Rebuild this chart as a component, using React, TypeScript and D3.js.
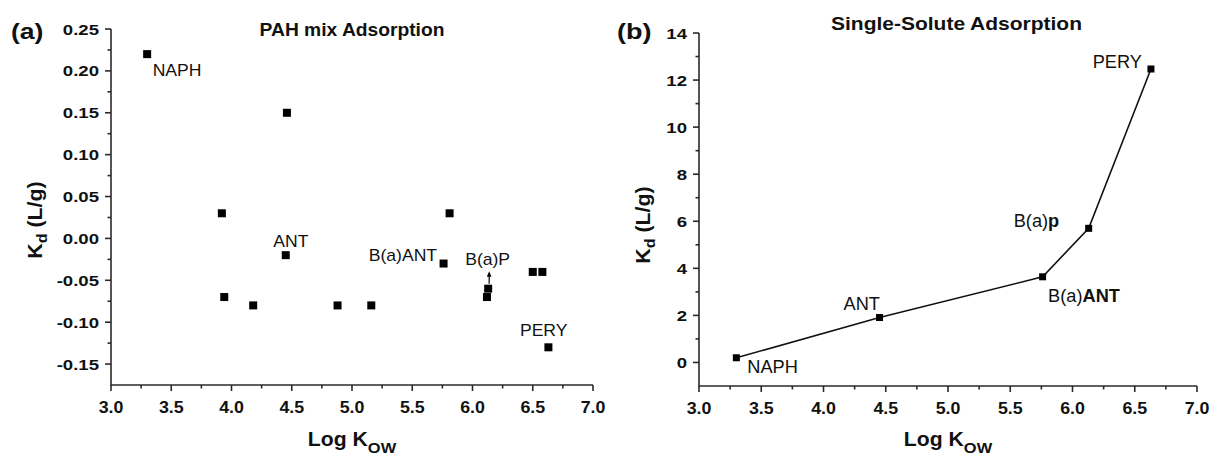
import React from "react";
import * as d3 from "d3";

const W = 1213;
const H = 454;
const FONT = "'Liberation Sans', Arial, sans-serif";

// panel (a): PAH mix adsorption
const mixLogKow = [3.3, 4.46, 3.92, 4.45, 3.94, 4.18, 4.88, 5.16, 5.81, 5.76, 6.13, 6.12, 6.5, 6.58, 6.63];
const mixKd = [0.22, 0.15, 0.03, -0.02, -0.07, -0.08, -0.08, -0.08, 0.03, -0.03, -0.06, -0.07, -0.04, -0.04, -0.13];
const mixNames = ["NAPH", "", "", "ANT", "", "", "", "", "", "B(a)ANT", "B(a)P", "", "", "", "PERY"];

// panel (b): single-solute adsorption
const singleNames = ["NAPH", "ANT", "B(a)ANT", "B(a)P", "PERY"];
const singleLogKow = [3.3, 4.45, 5.76, 6.13, 6.63];
const singleKd = [0.2, 1.91, 3.64, 5.7, 12.47];

// tick values
const xTicks = [3.0, 3.5, 4.0, 4.5, 5.0, 5.5, 6.0, 6.5, 7.0];
const mixYTicks = [-0.15, -0.1, -0.05, 0.0, 0.05, 0.1, 0.15, 0.2, 0.25];
const singleYTicks = [0, 2, 4, 6, 8, 10, 12, 14];

const loc = d3.formatLocale({ decimal: ".", thousands: ",", grouping: [3], currency: ["$", ""], minus: "-" });
const f2 = loc.format(".2f");
const f1 = loc.format(".1f");
const f0 = loc.format("d");

// label placement (pixel offsets from the point)
const mixLabelPos = {
  NAPH: { dx: 5.5, dy: 21.5, anchor: "start" },
  ANT: { dx: -12.5, dy: -8.5, anchor: "start" },
  "B(a)ANT": { dx: -6.5, dy: -2.5, anchor: "end" },
  "B(a)P": { dx: -23, dy: -23.5, anchor: "start" },
  PERY: { dx: -28.5, dy: -11.5, anchor: "start" },
};
const singleLabelPos = {
  NAPH: { dx: 11, dy: 15.5, anchor: "start" },
  ANT: { dx: -36, dy: -7.5, anchor: "start" },
  "B(a)ANT": { dx: 5.5, dy: 25, anchor: "start" },
  "B(a)P": { dx: -29.5, dy: -1.5, anchor: "end" },
  PERY: { dx: -9, dy: -1, anchor: "end" },
};

const Txt = ({ x, y, sx = 1.12, rot = 0, anchor = "start", size = 15, weight = "normal", children }: any) => (
  <text
    transform={`translate(${x},${y}) rotate(${rot}) scale(${sx},1)`}
    textAnchor={anchor}
    fontSize={size}
    fontWeight={weight}
    fontFamily={FONT}
    fill="#111"
  >
    {children}
  </text>
);

const AXIS = "#2a2a2a";

const Axes = ({ x, y, yTicks, yMinor, yFmt, xMinor }: any) => {
  const [x0, x1] = x.range();
  const [y0, y1] = y.range();
  return (
    <g stroke={AXIS} strokeWidth={1.6}>
      <line x1={x0} x2={x1} y1={y0} y2={y0} />
      <line x1={x0} x2={x0} y1={y0 + 0.8} y2={y1} />
      {xTicks.map(t => (
        <line key={"xt" + t} x1={x(t)} x2={x(t)} y1={y0} y2={y0 + 6} />
      ))}
      {xMinor.map(t => (
        <line key={"xm" + t} x1={x(t)} x2={x(t)} y1={y0} y2={y0 + 3.5} />
      ))}
      {yTicks.map(t => (
        <line key={"yt" + t} x1={x0 - 6} x2={x0} y1={y(t)} y2={y(t)} />
      ))}
      {yMinor.map(t => (
        <line key={"ym" + t} x1={x0 - 3.5} x2={x0} y1={y(t)} y2={y(t)} />
      ))}
      <g stroke="none">
        {xTicks.map(t => (
          <Txt key={"xl" + t} x={x(t)} y={y0 + 27.5} anchor="middle" size={16.5} weight="bold" sx={1.08}>
            {f1(t)}
          </Txt>
        ))}
        {yTicks.map(t => (
          <Txt key={"yl" + t} x={x0 - 12} y={y(t) + 5.5} anchor="end" size={15.5} weight="bold" sx={1.2}>
            {yFmt(t)}
          </Txt>
        ))}
      </g>
    </g>
  );
};

const AxisTitles = ({ cx, yBase, yMid }: any) => (
  <g>
    <Txt x={cx} y={445.5} anchor="middle" size={20} weight="bold" sx={1.06}>
      Log K<tspan fontSize={15.5} dy={7}>OW</tspan>
    </Txt>
    <Txt x={yBase} y={yMid} rot={-90} anchor="middle" size={20.5} weight="bold" sx={1.04}>
      K<tspan fontSize={15.5} dy={5}>d</tspan>
      <tspan dy={-5}> (L/g)</tspan>
    </Txt>
  </g>
);

export default function App() {
  React.useEffect(() => {
    document.body.style.margin = "0";
  }, []);

  const xA = d3.scaleLinear().domain([3, 7]).range([111, 593]);
  const yA = d3.scaleLinear().domain([-0.175, 0.25]).range([385, 29]);
  const xB = d3.scaleLinear().domain([3, 7]).range([699, 1197]);
  const yB = d3.scaleLinear().domain([-1, 14]).range([386, 33]);

  const xMinor = d3.range(3.25, 7, 0.5);
  const mixYMinor = d3.range(-0.125, 0.25, 0.05);
  const singleYMinor = d3.range(1, 14, 2);

  const line = d3
    .line<number>()
    .x((d, i) => xB(singleLogKow[i]))
    .y(d => yB(d));

  const mixPts = mixLogKow.map((v, i) => ({ x: xA(v), y: yA(mixKd[i]), name: mixNames[i] }));
  const singlePts = singleLogKow.map((v, i) => ({ x: xB(v), y: yB(singleKd[i]), name: singleNames[i] }));
  const bap = mixPts[mixNames.indexOf("B(a)P")];

  return (
    <svg width={W} height={H} style={{ position: "absolute", left: 0, top: 0, background: "#fff" }}>
      {/* panel (a) */}
      <Txt x={11} y={39} size={22.5} weight="bold" sx={1.18}>(a)</Txt>
      <Txt x={(xA.range()[0] + xA.range()[1]) / 2} y={36} anchor="middle" size={17.5} weight="bold" sx={1.1}>
        PAH mix Adsorption
      </Txt>
      <Axes x={xA} y={yA} yTicks={mixYTicks} yMinor={mixYMinor} yFmt={f2} xMinor={xMinor} />
      <AxisTitles cx={352} yBase={41.5} yMid={220} />
      {mixPts.map((p, i) => (
        <rect key={"m" + i} x={p.x - 4} y={p.y - 4} width={8} height={8} fill="#000" />
      ))}
      {mixPts
        .filter(p => p.name)
        .map(p => {
          const o = mixLabelPos[p.name];
          return (
            <Txt key={"ml" + p.name} x={p.x + o.dx} y={p.y + o.dy} anchor={o.anchor} size={16} sx={1.1}>
              {p.name}
            </Txt>
          );
        })}
      <line x1={bap.x + 1} x2={bap.x + 1} y1={bap.y - 5} y2={bap.y - 13} stroke="#000" strokeWidth={1.2} />
      <path
        d={`M${bap.x + 1},${bap.y - 17.5}L${bap.x - 1.3},${bap.y - 12}L${bap.x + 3.3},${bap.y - 12}Z`}
        fill="#000"
      />

      {/* panel (b) */}
      <Txt x={617} y={39} size={22.5} weight="bold" sx={1.2}>(b)</Txt>
      <Txt x={956.5} y={29.5} anchor="middle" size={17.5} weight="bold" sx={1.2}>
        Single-Solute Adsorption
      </Txt>
      <Axes x={xB} y={yB} yTicks={singleYTicks} yMinor={singleYMinor} yFmt={f0} xMinor={xMinor} />
      <AxisTitles cx={948} yBase={650} yMid={225} />
      <path d={line(singleKd) || ""} fill="none" stroke="#111" strokeWidth={1.6} />
      {singlePts.map((p, i) => (
        <rect key={"s" + i} x={p.x - 3.5} y={p.y - 3.5} width={7} height={7} fill="#000" />
      ))}
      {singlePts.map(p => {
        const o = singleLabelPos[p.name];
        let content: any = p.name;
        if (p.name === "B(a)ANT") content = (<>B(a)<tspan fontWeight="bold">ANT</tspan></>);
        if (p.name === "B(a)P") content = (<>B(a)<tspan fontWeight="bold">p</tspan></>);
        return (
          <Txt key={"sl" + p.name} x={p.x + o.dx} y={p.y + o.dy} anchor={o.anchor} size={17.5} sx={1.04}>
            {content}
          </Txt>
        );
      })}
    </svg>
  );
}
